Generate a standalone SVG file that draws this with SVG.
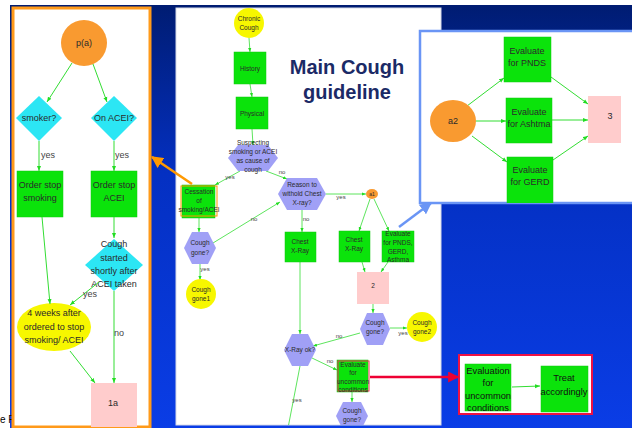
<svg xmlns="http://www.w3.org/2000/svg" width="632" height="428" viewBox="0 0 632 428">
<defs>
<linearGradient id="bg" x1="0" y1="0" x2="0" y2="1">
<stop offset="0" stop-color="#001c72"/>
<stop offset="0.4" stop-color="#0430c2"/>
<stop offset="1" stop-color="#0a3de6"/>
</linearGradient>
<clipPath id="mainclip"><rect x="176" y="8" width="265" height="417"/></clipPath>
<clipPath id="leftclip"><rect x="13" y="8" width="137" height="419"/></clipPath>
<clipPath id="rightclip"><rect x="420" y="31" width="212" height="172"/></clipPath>
<marker id="ga" viewBox="0 0 10 10" refX="10" refY="5" markerWidth="5" markerHeight="5" orient="auto" markerUnits="userSpaceOnUse"><path d="M0,1 L10,5 L0,9 z" fill="#22dd22"/></marker>
<marker id="gs" viewBox="0 0 10 10" refX="10" refY="5" markerWidth="4" markerHeight="4" orient="auto" markerUnits="userSpaceOnUse"><path d="M0,1 L10,5 L0,9 z" fill="#22dd22"/></marker>
<marker id="oa" viewBox="0 0 10 10" refX="9" refY="5" markerWidth="12" markerHeight="12" orient="auto" markerUnits="userSpaceOnUse"><path d="M0,0 L10,5 L0,10 z" fill="#ff9900"/></marker>
<marker id="ba" viewBox="0 0 10 10" refX="9" refY="5" markerWidth="12" markerHeight="12" orient="auto" markerUnits="userSpaceOnUse"><path d="M0,0 L10,5 L0,10 z" fill="#6a95f5"/></marker>
<marker id="ra" viewBox="0 0 10 10" refX="9" refY="5" markerWidth="12" markerHeight="11" orient="auto" markerUnits="userSpaceOnUse"><path d="M0,0 L10,5 L0,10 z" fill="#ee0033"/></marker>
</defs>
<style>
.t{font-family:"Liberation Sans",Arial,sans-serif;fill:#2a2a2a;text-anchor:middle;dominant-baseline:central}
.s{font-size:6.5px}
.m{font-size:9px}
.k{font-size:9.3px;fill:#111}
.lab{font-family:"Liberation Sans",Arial,sans-serif;fill:#444;dominant-baseline:central;text-anchor:middle}
.gr{fill:#0be30b;stroke:#11c811;stroke-width:0.5}
.pk{fill:#ffcccc}
.yl{fill:#f7f700}
.or{fill:#f99a30}
.hx{fill:#a0a0f6}
.cy{fill:#2ce6f4}
.c{stroke:#33dd33;stroke-width:0.8;fill:none}
.cl{stroke:#33dd33;stroke-width:1;fill:none}
</style>

<!-- background slide -->
<rect x="0" y="0" width="632" height="428" fill="#ffffff"/>
<rect x="10" y="5" width="622" height="423" fill="url(#bg)"/>
<text x="0" y="423" style="font-family:'Liberation Sans',Arial,sans-serif;font-size:10px;fill:#000">e F</text>

<!-- LEFT PANEL -->
<g id="left-panel">
<rect x="13" y="8" width="137" height="419" fill="#ffffff" stroke="#ff9a1a" stroke-width="3"/>
</g>
<g clip-path="url(#leftclip)">
<g id="l-pa"><circle cx="84" cy="43" r="23" class="or"/><text x="84" y="43" class="t m">p(a)</text></g>
<g id="l-smoker"><polygon points="16,118 39,96 62,118 39,141" class="cy"/><text x="39" y="118" class="t m">smoker?</text></g>
<g id="l-acei"><polygon points="91,118 114,96 137,118 114,141" class="cy"/><text x="114" y="118" class="t m">On ACEI?</text></g>
<g id="l-stopsmoke"><rect x="17" y="171" width="46" height="46" class="gr"/><text x="40" y="185" class="t m">Order stop</text><text x="40" y="198" class="t m">smoking</text></g>
<g id="l-stopacei"><rect x="91" y="171" width="46" height="46" class="gr"/><text x="114" y="185" class="t m">Order stop</text><text x="114" y="198" class="t m">ACEI</text></g>
<g id="l-started"><polygon points="85,265 114,239 143,265 114,291" class="cy"/><text x="114" y="244" class="t m">Cough</text><text x="114" y="258" class="t m">started</text><text x="114" y="271" class="t m">shortly after</text><text x="114" y="284" class="t m">ACEI taken</text></g>
<g id="l-4weeks"><ellipse cx="54" cy="327" rx="37" ry="24" class="yl"/><text x="54" y="313" class="t m">4 weeks after</text><text x="54" y="327" class="t m">ordered to stop</text><text x="54" y="340" class="t m">smoking/ ACEI</text></g>
<g id="l-1a"><rect x="91" y="383" width="46" height="48" class="pk"/><text x="113" y="403" class="t m">1a</text></g>
<g id="l-connectors">
<line x1="72" y1="63" x2="47" y2="102" class="cl" marker-end="url(#ga)"/>
<line x1="93" y1="64" x2="107" y2="102" class="cl" marker-end="url(#ga)"/>
<line x1="39" y1="141" x2="39" y2="171" class="cl" marker-end="url(#ga)"/>
<line x1="114" y1="141" x2="114" y2="171" class="cl" marker-end="url(#ga)"/>
<line x1="42" y1="217" x2="50" y2="304" class="cl" marker-end="url(#ga)"/>
<line x1="114" y1="217" x2="114" y2="238" class="cl" marker-end="url(#ga)"/>
<line x1="99" y1="282" x2="70" y2="305" class="cl" marker-end="url(#ga)"/>
<line x1="114" y1="291" x2="114" y2="383" class="cl" marker-end="url(#ga)"/>
<line x1="70" y1="351" x2="95" y2="383" class="cl" marker-end="url(#ga)"/>
<text x="48" y="155" class="lab" font-size="9">yes</text>
<text x="122" y="155" class="lab" font-size="9">yes</text>
<text x="90" y="294" class="lab" font-size="9">yes</text>
<text x="119" y="333" class="lab" font-size="9">no</text>
</g>
</g>

<!-- MAIN PANEL -->
<rect x="176" y="8" width="265" height="417" fill="#ffffff" stroke="#d8dbe8" stroke-width="1"/>
<g id="title">
<text x="347" y="74" style="font-family:'Liberation Sans',Arial,sans-serif;font-size:20px;font-weight:bold;fill:#1b2a66;text-anchor:middle">Main Cough</text>
<text x="347" y="99" style="font-family:'Liberation Sans',Arial,sans-serif;font-size:20px;font-weight:bold;fill:#1b2a66;text-anchor:middle">guideline</text>
</g>
<g clip-path="url(#mainclip)">
<g id="m-connectors">
<line x1="249" y1="38" x2="250" y2="52" class="c" marker-end="url(#gs)"/>
<line x1="250" y1="84" x2="252" y2="97" class="c" marker-end="url(#gs)"/>
<line x1="252" y1="129" x2="253" y2="145" class="c" marker-end="url(#gs)"/>
<line x1="240" y1="171" x2="215" y2="185" class="c" marker-end="url(#gs)"/>
<line x1="266" y1="171" x2="287" y2="179" class="c" marker-end="url(#gs)"/>
<line x1="199" y1="218" x2="199" y2="232" class="c" marker-end="url(#gs)"/>
<line x1="200" y1="264" x2="200" y2="280" class="c" marker-end="url(#gs)"/>
<line x1="213" y1="243" x2="280" y2="202" class="c" marker-end="url(#gs)"/>
<line x1="326" y1="194" x2="366" y2="194" class="c" marker-end="url(#gs)"/>
<line x1="302" y1="210" x2="302" y2="232" class="c" marker-end="url(#gs)"/>
<line x1="370" y1="199" x2="359" y2="231" class="c" marker-end="url(#gs)"/>
<line x1="374" y1="199" x2="389" y2="231" class="c" marker-end="url(#gs)"/>
<line x1="362" y1="262" x2="365" y2="272" class="c" marker-end="url(#gs)"/>
<line x1="388" y1="262" x2="381" y2="272" class="c" marker-end="url(#gs)"/>
<line x1="373" y1="304" x2="373" y2="313" class="c" marker-end="url(#gs)"/>
<line x1="390" y1="328" x2="407" y2="328" class="c" marker-end="url(#gs)"/>
<line x1="360" y1="333" x2="313" y2="346" class="c" marker-end="url(#gs)"/>
<line x1="300" y1="262" x2="300" y2="334" class="c" marker-end="url(#gs)"/>
<line x1="312" y1="358" x2="337" y2="370" class="c" marker-end="url(#gs)"/>
<line x1="352" y1="392" x2="352" y2="402" class="c" marker-end="url(#gs)"/>
<line x1="300" y1="366" x2="288" y2="428" class="c"/>
<g class="lab" font-size="6">
<text x="230" y="177">yes</text>
<text x="282" y="172">no</text>
<text x="205" y="269">yes</text>
<text x="254" y="219">no</text>
<text x="341" y="197">yes</text>
<text x="306" y="219">no</text>
<text x="403" y="333">yes</text>
<text x="339" y="336">no</text>
<text x="330" y="361">no</text>
<text x="297" y="400">yes</text>
</g>
</g>
<g id="m-chronic"><circle cx="249" cy="23" r="15" class="yl"/><text x="249" y="18" class="t s">Chronic</text><text x="249" y="27" class="t s">Cough</text></g>
<g id="m-history"><rect x="234" y="52" width="32" height="32" class="gr"/><text x="250" y="68" class="t s">History</text></g>
<g id="m-physical"><rect x="236" y="97" width="32" height="32" class="gr"/><text x="252" y="113" class="t s">Physical</text></g>
<g id="m-suspect"><polygon points="228,158 238,145 268,145 278,158 268,171 238,171" class="hx"/><text x="253" y="142" class="t s">Suspecting</text><text x="253" y="151" class="t s">smoking or ACEI</text><text x="253" y="160" class="t s">as cause of</text><text x="253" y="169" class="t s">cough</text></g>
<g id="m-cessation"><rect x="182" y="185" width="33" height="33" class="gr"/><rect x="181" y="186" width="36" height="30" fill="none" stroke="#ff9900" stroke-width="1"/><text x="199" y="191" class="t s">Cessation</text><text x="199" y="200" class="t s">of</text><text x="199" y="209" class="t s">smoking/ACEI</text></g>
<g id="m-gone1q"><polygon points="184,248 192,232 208,232 216,248 208,264 192,264" class="hx"/><text x="200" y="242" class="t s">Cough</text><text x="200" y="252" class="t s">gone?</text></g>
<g id="m-gone1"><circle cx="201" cy="294" r="15" class="yl"/><text x="201" y="289" class="t s">Cough</text><text x="201" y="298" class="t s">gone1</text></g>
<g id="m-reason"><polygon points="278,194 287,178 317,178 326,194 317,210 287,210" class="hx"/><text x="302" y="184" class="t s">Reason to</text><text x="302" y="193" class="t s">withold Chest</text><text x="302" y="202" class="t s">X-ray?</text></g>
<g id="m-a1"><ellipse cx="372" cy="194" rx="6" ry="5" class="or"/><text x="372" y="194" class="t" font-size="5">a1</text></g>
<g id="m-chestxray"><rect x="285" y="232" width="31" height="30" class="gr"/><text x="300" y="241" class="t s">Chest</text><text x="300" y="250" class="t s">X-Ray</text></g>
<g id="m-chestxray2"><rect x="339" y="231" width="31" height="31" class="gr"/><text x="354" y="239" class="t s">Chest</text><text x="354" y="248" class="t s">X-Ray</text></g>
<g id="m-evalpnds"><rect x="382" y="231" width="32" height="31" class="gr"/><text x="398" y="233" class="t s">Evaluate</text><text x="398" y="242" class="t s">for PNDS,</text><text x="398" y="251" class="t s">GERD,</text><text x="398" y="259" class="t s">Asthma</text></g>
<g id="m-2"><rect x="357" y="272" width="32" height="32" class="pk"/><text x="373" y="285" class="t s">2</text></g>
<g id="m-gone2q"><polygon points="360,329 367,313 383,313 390,329 383,345 367,345" class="hx"/><text x="375" y="322" class="t s">Cough</text><text x="375" y="331" class="t s">gone?</text></g>
<g id="m-gone2"><circle cx="422" cy="327" r="15" class="yl"/><text x="422" y="322" class="t s">Cough</text><text x="422" y="331" class="t s">gone2</text></g>
<g id="m-xrayok"><polygon points="284,350 292,334 308,334 316,350 308,366 292,366" class="hx"/><text x="300" y="349" class="t s">X-Ray ok?</text></g>
<g id="m-uncommon"><rect x="337" y="360" width="31" height="32" class="gr"/><rect x="338" y="361" width="31" height="30" fill="none" stroke="#ee3355" stroke-width="1"/><text x="353" y="364" class="t s">Evaluate</text><text x="353" y="372" class="t s">for</text><text x="353" y="381" class="t s">uncommon</text><text x="353" y="389" class="t s">conditions</text></g>
<g id="m-gone3q"><polygon points="336,416 343,402 361,402 368,416 361,430 343,430" class="hx"/><text x="352" y="410" class="t s">Cough</text><text x="352" y="419" class="t s">gone?</text></g>
</g>

<!-- RIGHT TOP PANEL -->
<g id="right-panel">
<rect x="420" y="31" width="220" height="172" fill="#ffffff" stroke="#6a95f5" stroke-width="2.5"/>
</g>
<g clip-path="url(#rightclip)">
<g id="r-connectors">
<line x1="467" y1="106" x2="504" y2="78" class="cl" marker-end="url(#ga)"/>
<line x1="476" y1="121" x2="506" y2="121" class="cl" marker-end="url(#ga)"/>
<line x1="472" y1="136" x2="507" y2="162" class="cl" marker-end="url(#ga)"/>
<line x1="551" y1="77" x2="588" y2="104" class="cl" marker-end="url(#ga)"/>
<line x1="552" y1="120" x2="588" y2="120" class="cl" marker-end="url(#ga)"/>
<line x1="553" y1="160" x2="588" y2="136" class="cl" marker-end="url(#ga)"/>
</g>
<g id="r-a2"><ellipse cx="453" cy="121" rx="23" ry="21" class="or"/><text x="453" y="121" class="t m">a2</text></g>
<g id="r-pnds"><rect x="504" y="37" width="47" height="45" class="gr"/><text x="527" y="51" class="t m">Evaluate</text><text x="527" y="63" class="t m">for PNDS</text></g>
<g id="r-asthma"><rect x="506" y="98" width="46" height="45" class="gr"/><text x="529" y="112" class="t m">Evaluate</text><text x="529" y="124" class="t m">for Ashtma</text></g>
<g id="r-gerd"><rect x="507" y="157" width="46" height="46" class="gr"/><text x="530" y="170" class="t m">Evaluate</text><text x="530" y="182" class="t m">for GERD</text></g>
<g id="r-3"><rect x="588" y="96" width="33" height="47" class="pk"/><text x="610" y="116" class="t m">3</text></g>
</g>

<!-- BOTTOM RIGHT PANEL -->
<g id="br-panel">
<rect x="459" y="355" width="133" height="59" fill="#ffffff" stroke="#ee1144" stroke-width="2"/>
</g>
<g id="br-connectors"><line x1="512" y1="387" x2="540" y2="386" class="cl" marker-end="url(#ga)"/></g>
<g id="br-eval"><rect x="465" y="364" width="46" height="47" class="gr"/><text x="488" y="371" class="t k">Evaluation</text><text x="488" y="383" class="t k">for</text><text x="488" y="396" class="t k">uncommon</text><text x="488" y="408" class="t k">conditions</text></g>
<g id="br-treat"><rect x="541" y="366" width="47" height="46" class="gr"/><text x="564" y="378" class="t k">Treat</text><text x="564" y="392" class="t k">accordingly</text></g>

<!-- zoom arrows -->
<g id="zoom-connectors">
<line x1="192" y1="184" x2="152" y2="157" stroke="#ff9900" stroke-width="2.5" marker-end="url(#oa)"/>
<line x1="399" y1="227" x2="431" y2="203" stroke="#6a95f5" stroke-width="2.5" marker-end="url(#ba)"/>
<line x1="370" y1="377" x2="458" y2="377" stroke="#ee0033" stroke-width="2.5" marker-end="url(#ra)"/>
</g>
</svg>
